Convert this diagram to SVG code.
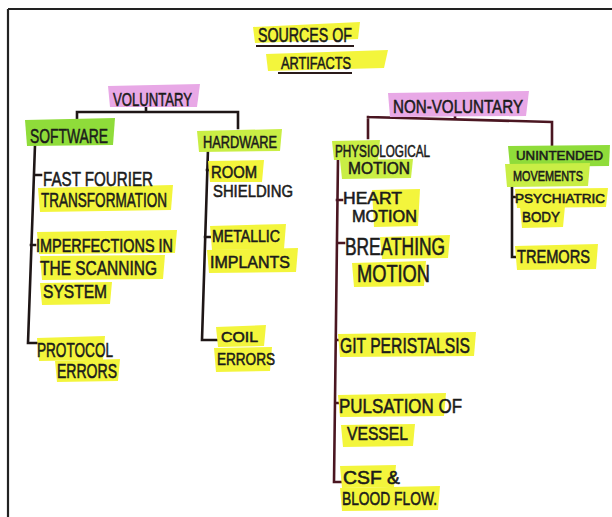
<svg xmlns="http://www.w3.org/2000/svg" width="612" height="517" viewBox="0 0 612 517">
<style>
.t{font-family:"Liberation Sans",Arial,sans-serif;fill:#1b1b1b;stroke:#1b1b1b;stroke-width:0.55}
.hy{fill:#f3f53c}
.hyg{fill:#c9ee45}
.hg{fill:#8fdc3a}
.hp{fill:#e8a8e6}
.c{fill:none;stroke:#1e1616;stroke-width:2.6;stroke-linecap:square;stroke-linejoin:miter}
.cr{fill:none;stroke:#4a1621;stroke-width:2.6;stroke-linecap:square;stroke-linejoin:miter}
.u{fill:none;stroke:#2a1a1a;stroke-width:2}
</style>
<rect x="0" y="0" width="612" height="517" fill="#ffffff"/>
<path d="M8,9 H612 M8,9 V517" fill="none" stroke="#222" stroke-width="2.2"/>

<g id="title">
<polygon class="hy" points="253,27 360,22 358,39 255,43"/>
<polygon class="hy" points="266,54 388,50 384,68 268,71"/>
<text class="t" x="258" y="42" font-size="20" textLength="94" lengthAdjust="spacingAndGlyphs">SOURCES OF</text>
<text class="t" x="281" y="69" font-size="17" textLength="70" lengthAdjust="spacingAndGlyphs">ARTIFACTS</text>
<path class="u" d="M256,46 L354,46 M278,73 L352,73"/>
</g>

<g id="connectors">
<path class="c" d="M146,106 V112 M77,112 H238 M77,112 V130 M238,112 V128"/>
<path class="c" d="M35,145 L28,343 H37 M34,175 H41 M31,245 H35"/>
<path class="c" d="M208,149 L202,340 H217 M207,170 H211 M205,237 H210"/>
<path class="cr" d="M455,113 V118 M368,117 L552,122 M368,117 V138 M552,122 V147"/>
<path class="cr" d="M338,158 L334,482 H342 M337,200 H342 M337,243 H344 M336,340 H339 M335,403 H338"/>
<path class="c" d="M512,180 V257 H517 M512,197 H515"/>
</g>

<g id="voluntary">
<polygon class="hp" points="108,86 200,84 197,107 110,107"/>
<text class="t" x="113" y="106" font-size="19" textLength="79" lengthAdjust="spacingAndGlyphs">VOLUNTARY</text>
</g>

<g id="software">
<polygon class="hg" points="25,120 115,118 113,145 27,146"/>
<text class="t" x="30" y="143" font-size="21" textLength="78" lengthAdjust="spacingAndGlyphs">SOFTWARE</text>
</g>

<g id="fft">
<polygon class="hy" points="38,188 173,185 171,210 40,212"/>
<text class="t" x="43" y="186" font-size="20" textLength="110" lengthAdjust="spacingAndGlyphs">FAST FOURIER</text>
<text class="t" x="41" y="207" font-size="20" textLength="126" lengthAdjust="spacingAndGlyphs">TRANSFORMATION</text>
</g>

<g id="imperfections">
<polygon class="hy" points="37,232 177,230 175,253 39,254"/>
<polygon class="hy" points="40,256 165,255 163,279 42,280"/>
<polygon class="hy" points="40,283 112,282 110,304 42,305"/>
<text class="t" x="36" y="252" font-size="18" textLength="137" lengthAdjust="spacingAndGlyphs">IMPERFECTIONS IN</text>
<text class="t" x="40" y="275" font-size="20" textLength="117" lengthAdjust="spacingAndGlyphs">THE SCANNING</text>
<text class="t" x="43" y="298" font-size="19" textLength="64" lengthAdjust="spacingAndGlyphs">SYSTEM</text>
</g>

<g id="protocol">
<polygon class="hy" points="37,338 105,336 103,360 39,361"/>
<polygon class="hy" points="55,361 120,359 118,381 57,382"/>
<text class="t" x="37" y="357" font-size="20" textLength="76" lengthAdjust="spacingAndGlyphs">PROTOCOL</text>
<text class="t" x="57" y="378" font-size="20" textLength="60" lengthAdjust="spacingAndGlyphs">ERRORS</text>
</g>

<g id="hardware">
<polygon class="hyg" points="197,131 282,129 280,151 199,152"/>
<text class="t" x="203" y="148" font-size="17" textLength="74" lengthAdjust="spacingAndGlyphs">HARDWARE</text>
</g>

<g id="room">
<polygon class="hy" points="208,161 264,160 262,182 210,182"/>
<text class="t" x="211" y="178" font-size="17" textLength="46" lengthAdjust="spacingAndGlyphs">ROOM</text>
<text class="t" x="213" y="197" font-size="17" textLength="80" lengthAdjust="spacingAndGlyphs">SHIELDING</text>
</g>

<g id="metallic">
<polygon class="hy" points="210,226 286,224 284,249 212,250"/>
<polygon class="hy" points="207,250 298,248 296,272 209,273"/>
<text class="t" x="212" y="242" font-size="16" textLength="68" lengthAdjust="spacingAndGlyphs">METALLIC</text>
<text class="t" x="210" y="268" font-size="17" textLength="80" lengthAdjust="spacingAndGlyphs">IMPLANTS</text>
</g>

<g id="coil">
<polygon class="hy" points="216,327 266,325 264,346 218,347"/>
<polygon class="hy" points="214,348 272,347 270,371 216,372"/>
<text class="t" x="221" y="342" font-size="15" textLength="37" lengthAdjust="spacingAndGlyphs">COIL</text>
<text class="t" x="217" y="365" font-size="16" textLength="58" lengthAdjust="spacingAndGlyphs">ERRORS</text>
</g>

<g id="nonvoluntary">
<polygon class="hp" points="388,93 529,91 526,116 390,117"/>
<text class="t" x="393" y="113" font-size="19" textLength="130" lengthAdjust="spacingAndGlyphs">NON-VOLUNTARY</text>
</g>

<g id="physiological">
<polygon class="hyg" points="332,141 380,140 378,160 334,160"/>
<polygon class="hyg" points="340,160 413,159 411,178 342,179"/>
<text class="t" x="335" y="157" font-size="16" textLength="95" lengthAdjust="spacingAndGlyphs">PHYSIOLOGICAL</text>
<text class="t" x="348" y="174" font-size="17" textLength="62" lengthAdjust="spacingAndGlyphs">MOTION</text>
</g>

<g id="heart">
<polygon class="hy" points="372,190 420,189 418,226 374,227"/>
<text class="t" x="343" y="204" font-size="16" textLength="59" lengthAdjust="spacingAndGlyphs">HEART</text>
<text class="t" x="352" y="222" font-size="16" textLength="65" lengthAdjust="spacingAndGlyphs">MOTION</text>
</g>

<g id="breathing">
<polygon class="hy" points="380,237 450,235 448,258 382,259"/>
<polygon class="hy" points="352,263 426,261 424,286 354,287"/>
<text class="t" x="345" y="255" font-size="23" textLength="100" lengthAdjust="spacingAndGlyphs">BREATHING</text>
<text class="t" x="357" y="282" font-size="23" textLength="73" lengthAdjust="spacingAndGlyphs">MOTION</text>
</g>

<g id="git">
<polygon class="hy" points="338,334 476,332 474,356 340,357"/>
<text class="t" x="340" y="353" font-size="22" textLength="130" lengthAdjust="spacingAndGlyphs">GIT PERISTALSIS</text>
</g>

<g id="pulsation">
<polygon class="hy" points="338,395 446,393 444,416 340,417"/>
<polygon class="hy" points="341,425 415,424 413,446 343,447"/>
<text class="t" x="339" y="413" font-size="21" textLength="123" lengthAdjust="spacingAndGlyphs">PULSATION OF</text>
<text class="t" x="347" y="440" font-size="18" textLength="61" lengthAdjust="spacingAndGlyphs">VESSEL</text>
</g>

<g id="csf">
<polygon class="hy" points="340,466 396,465 394,487 342,488"/>
<polygon class="hy" points="340,488 440,486 438,510 342,511"/>
<text class="t" x="343" y="484" font-size="18" textLength="57" lengthAdjust="spacingAndGlyphs">CSF &amp;</text>
<text class="t" x="342" y="505" font-size="18" textLength="95" lengthAdjust="spacingAndGlyphs">BLOOD FLOW.</text>
</g>

<g id="unintended">
<polygon class="hg" points="508,146 610,145 609,166 510,167"/>
<polygon class="hyg" points="505,164 590,163 588,186 507,187"/>
<text class="t" x="516" y="160" font-size="13" textLength="87" lengthAdjust="spacingAndGlyphs">UNINTENDED</text>
<text class="t" x="513" y="181" font-size="14" textLength="70" lengthAdjust="spacingAndGlyphs">MOVEMENTS</text>
</g>

<g id="psychiatric">
<polygon class="hy" points="515,189 608,188 606,207 517,208"/>
<polygon class="hy" points="520,207 565,206 563,227 522,228"/>
<text class="t" x="515" y="203" font-size="13" textLength="90" lengthAdjust="spacingAndGlyphs">PSYCHIATRIC</text>
<text class="t" x="522" y="222" font-size="15" textLength="38" lengthAdjust="spacingAndGlyphs">BODY</text>
</g>

<g id="tremors">
<polygon class="hy" points="515,246 598,244 596,269 517,270"/>
<text class="t" x="517" y="263" font-size="18" textLength="73" lengthAdjust="spacingAndGlyphs">TREMORS</text>
</g>
</svg>
